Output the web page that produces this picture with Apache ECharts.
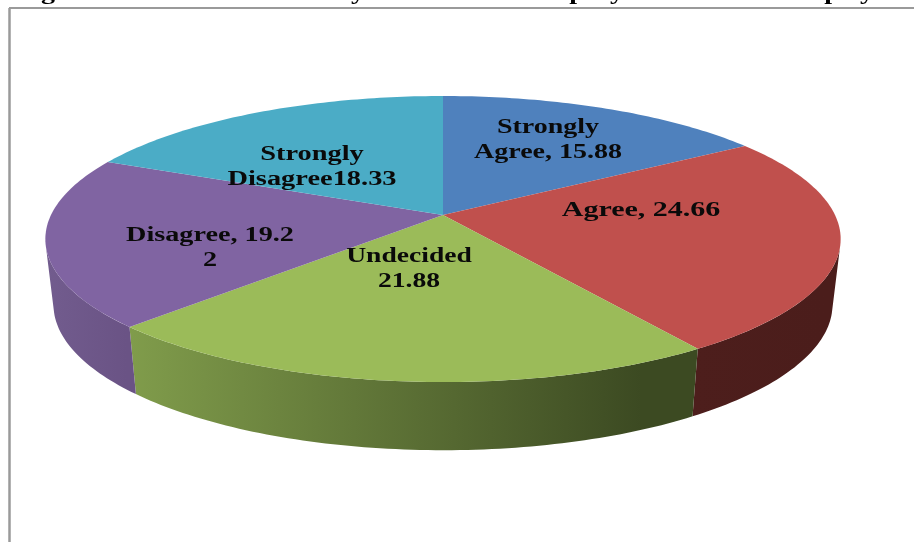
<!DOCTYPE html>
<html>
<head>
<meta charset="utf-8">
<title>Pie chart</title>
<script src="https://cdn.jsdelivr.net/npm/echarts@6/dist/echarts.min.js"></script>
<style>
  html, body { margin: 0; padding: 0; background: #fff; overflow: hidden; }
  #main { width: 914px; height: 542px; filter: blur(0.45px); }
</style>
</head>
<body>
<div id="main"></div>
<script>
// values
const categories = ['Strongly Agree', 'Agree', 'Undecided', 'Disagree', 'Strongly Disagree'];
const values = [15.88, 24.66, 21.88, 19.22, 18.33];
const labelLines = [
  ['Strongly', 'Agree, 15.88'],
  ['Agree, 24.66'],
  ['Undecided', '21.88'],
  ['Disagree, 19.2', '2'],
  ['Strongly', 'Disagree18.33']
];
// only the descenders of the heading survive the crop at the top of the picture
const headingLetters = ['g', 'y', 'p', 'y', 'p', 'y'];

const topColors = ['#4f81bd', '#c0504d', '#9bbb59', '#8064a2', '#4bacc6'];
const wallColors = [
  ['#4f81bd', '#4f81bd'],
  ['#4d1e1c', '#4b1d1b'],
  ['#809c4b', '#3c4a22'],
  ['#725c8e', '#6a5385'],
  ['#4bacc6', '#4bacc6']
];
const labelCenters = [[548, 140], [641, 211], [409, 269], [210, 248], [312, 167]];
const labelScales = [1.4, 1.5, 1.38, 1.41, 1.42];
const headingX = [48, 358, 577, 617, 832, 867];

// the disc is a circle seen in perspective, so the hub sits above the ellipse centre
const hub = { x: 443, y: 215, rx: 392, ry: 139, k: 0.168 };
const rim = { x: 443, y: 280, rx: 384, ry: 141.6, k: 0.168 };
const wallFrom = 103, wallTo = 257;

const total = values.reduce((a, b) => a + b, 0);

function project(disc, deg) {
  const rad = deg * Math.PI / 180;
  const u = Math.sin(rad), v = -Math.cos(rad);
  const d = 1 - disc.k * v;
  return [disc.x + disc.rx * u / d, disc.y + disc.ry * v / d];
}

function arc(disc, from, to) {
  const pts = [];
  const n = Math.max(2, Math.ceil(Math.abs(to - from)));
  for (let i = 0; i <= n; i++) pts.push(project(disc, from + (to - from) * i / n));
  return pts;
}

function sliceAngles(index) {
  let sum = 0;
  for (let i = 0; i < index; i++) sum += values[i];
  return [sum / total * 360, (sum + values[index]) / total * 360];
}

function renderWall(params, api) {
  const a = sliceAngles(api.value(0));
  const from = Math.max(a[0], wallFrom), to = Math.min(a[1], wallTo);
  if (to <= from) return null;
  const top = arc(hub, from, to), bottom = arc(rim, from, to).reverse();
  const pts = top.concat(bottom);
  const colors = wallColors[api.value(0)];
  const xs = pts.map(p => p[0]);
  return {
    type: 'polygon',
    shape: { points: pts },
    style: {
      fill: new echarts.graphic.LinearGradient(Math.min(...xs), 0, Math.max(...xs), 0, [
        { offset: 0, color: colors[0] },
        { offset: 0.9, color: colors[1] },
        { offset: 1, color: colors[1] }
      ], true)
    }
  };
}

function renderTop(params, api) {
  const i = api.value(0);
  const a = sliceAngles(i);
  return {
    type: 'polygon',
    shape: { points: [[hub.x, hub.y]].concat(arc(hub, a[0], a[1])) },
    style: { fill: topColors[i] }
  };
}

function renderLabel(params, api) {
  const i = api.value(0);
  return {
    type: 'text',
    x: labelCenters[i][0],
    y: labelCenters[i][1],
    scaleX: labelScales[i],
    style: {
      text: labelLines[i].join('\n'),
      fill: '#0a0a0a',
      font: 'bold 20px "Liberation Serif"',
      lineHeight: 25,
      align: 'center',
      verticalAlign: 'middle'
    }
  };
}

const sliceData = values.map((v, i) => [i, v]);

const chart = echarts.init(document.getElementById('main'), null, { renderer: 'canvas' });
chart.setOption({
  animation: false,
  backgroundColor: '#fff',
  xAxis: { show: false },
  yAxis: { show: false },
  graphic: [
    { type: 'line', shape: { x1: 9.5, y1: 8, x2: 9.5, y2: 542 }, style: { stroke: '#9a9a9a', lineWidth: 2.5 } },
    { type: 'line', shape: { x1: 9, y1: 8, x2: 914, y2: 8 }, style: { stroke: '#9a9a9a', lineWidth: 2 } }
  ].concat(headingLetters.map((t, i) => ({
    type: 'text',
    x: headingX[i],
    y: -6,
    scaleX: 1.4,
    style: { text: t, fill: '#000', font: 'bold 20px "Liberation Serif"', align: 'center', verticalAlign: 'middle' }
  }))),
  series: [
    { type: 'custom', coordinateSystem: 'none', renderItem: renderWall, data: sliceData, silent: true },
    { type: 'custom', coordinateSystem: 'none', renderItem: renderTop, data: sliceData, silent: true },
    { type: 'custom', coordinateSystem: 'none', renderItem: renderLabel, data: sliceData, silent: true }
  ]
});
</script>
</body>
</html>
